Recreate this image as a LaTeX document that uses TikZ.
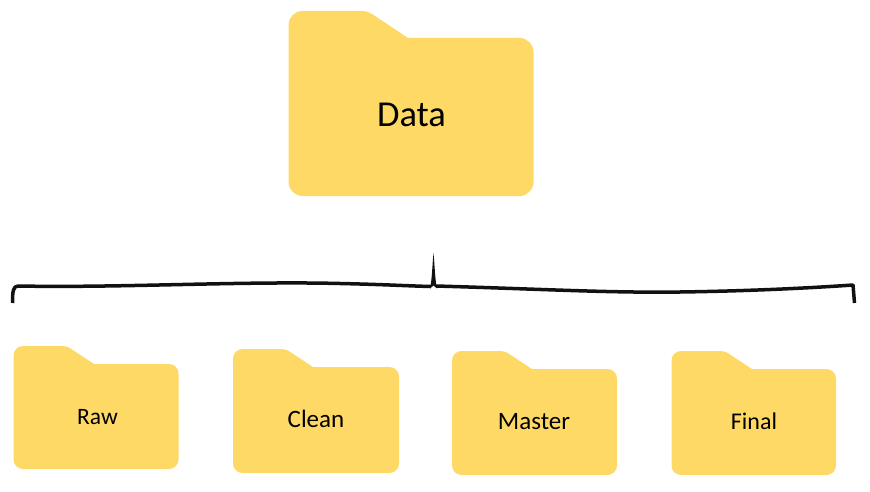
\documentclass[tikz,border=0pt]{standalone}
\usepackage{fontspec}
\setmainfont{Carlito}
\definecolor{folderfill}{HTML}{FFD966}
\definecolor{bracecol}{HTML}{111111}
\tikzset{
  x=1pt,y=-1pt,
  folderlabel/.style={text=black,inner sep=0pt,anchor=base},
  foldershape/.style={fill=folderfill,draw=none,line join=round},
  bracket/.style={draw=bracecol,line width=3.5pt,line cap=butt,line join=round},
}
% #1 left, #2 top, #3 right, #4 bottom, #5 tab end x, #6 slope end x, #7 body top y, #8 corner radius
\newcommand{\folderbody}[8]{%
  \fill[foldershape] (#1+#8,#2) -- (#5-#8*0.45,#2)
    .. controls (#5-#8*0.1,#2) and (#5+#8*0.1,#2+#8*0.12) .. (#5+#8*0.3,#2+#8*0.22)
    -- (#6,#7) -- (#3-#8,#7)
    .. controls (#3-#8*0.45,#7) and (#3,#7+#8*0.45) .. (#3,#7+#8)
    -- (#3,#4-#8)
    .. controls (#3,#4-#8*0.45) and (#3-#8*0.45,#4) .. (#3-#8,#4)
    -- (#1+#8,#4)
    .. controls (#1+#8*0.45,#4) and (#1,#4-#8*0.45) .. (#1,#4-#8)
    -- (#1,#2+#8)
    .. controls (#1,#2+#8*0.45) and (#1+#8*0.45,#2) .. (#1+#8,#2) -- cycle;%
}
\begin{document}
\begin{tikzpicture}
\useasboundingbox (0,0) rectangle (870,492);
\folderbody{288.5}{11}{533.5}{196}{368}{408}{38}{14}
\folderbody{13.5}{346}{178.5}{469}{67}{94}{364}{9.5}
\folderbody{233}{349}{399}{473}{286}{313}{367}{9.5}
\folderbody{452}{351}{617}{475}{505}{532}{369}{9.5}
\folderbody{671.5}{351}{836}{475}{725}{752}{369}{9.5}
\node[folderlabel,font=\fontsize{36.5}{36.5}\selectfont] (data) at (411.5,127) {Data};
\node[folderlabel,font=\fontsize{23.5}{23.5}\selectfont] (raw) at (97.5,424) {Raw};
\node[folderlabel,font=\fontsize{25}{25}\selectfont] (clean) at (316,427) {Clean};
\node[folderlabel,font=\fontsize{25}{25}\selectfont] (master) at (534,429) {Master};
\node[folderlabel,font=\fontsize{24}{24}\selectfont] (final) at (754,429) {Final};
\draw[bracket] (12.5,303) .. controls (12.5,292) and (13,286) .. (18,286)
  .. controls (120,288) and (240,281) .. (340,283.5)
  .. controls (385,284.5) and (410,286) .. (431,286.5);
\fill[bracecol] (430,288.5) .. controls (432,280) and (432.3,265) .. (433.5,253)
  .. controls (434.7,265) and (435,280) .. (437,288.5)
  -- (433.5,285.5) -- cycle;
\draw[bracket] (436,286) .. controls (540,289) and (610,293) .. (680,292)
  .. controls (750,291) and (810,288) .. (853,285)
  -- (854.5,303);
\end{tikzpicture}
\end{document}
